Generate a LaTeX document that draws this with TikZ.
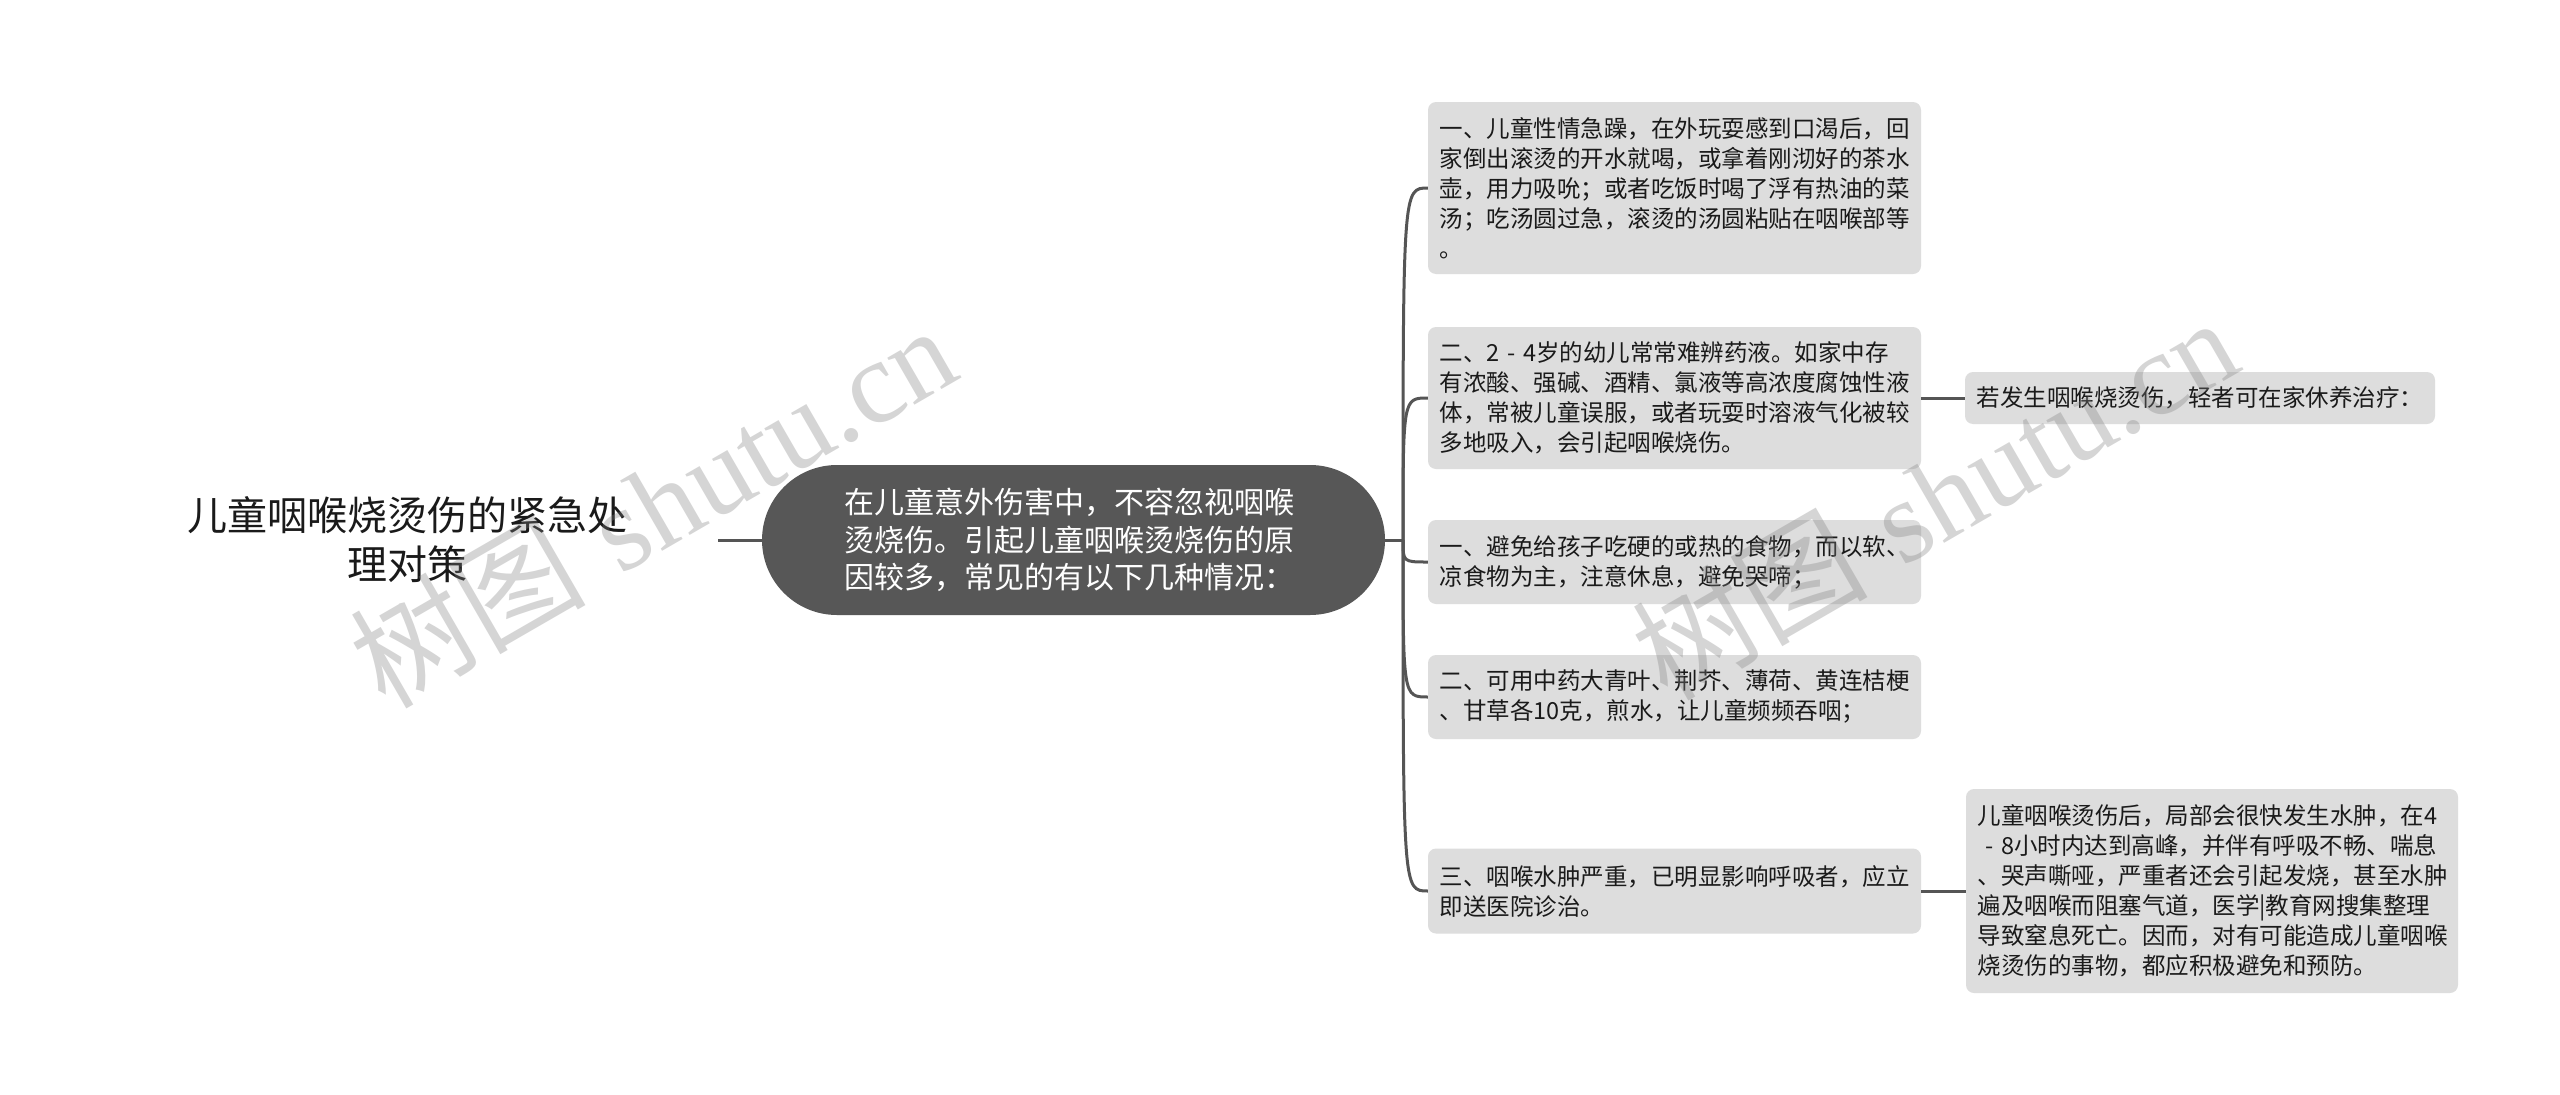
\documentclass[tikz,border=0pt]{standalone}
\usepackage{fontspec}
\newfontfamily\cjk{Noto Sans CJK SC}
\newfontfamily\wmlatin{Liberation Serif}
\definecolor{linegray}{HTML}{555555}
\definecolor{boxgray}{HTML}{DDDDDD}
\definecolor{centralgray}{HTML}{575757}
\definecolor{textblack}{HTML}{1A1A1A}
\begin{document}
\begin{tikzpicture}[x=1pt,y=-1pt,
  conn/.style={draw=linegray, line width=3pt},
  leaf/.style={fill=boxgray, rounded corners=8pt, inner xsep=11.5pt, inner ysep=0pt,
    text width=470pt, align=left, text=textblack,
    font=\cjk\fontsize{23.5pt}{30pt}\selectfont},
  rootnode/.style={inner sep=0pt, minimum width=622pt, align=center, text=textblack,
    font=\cjk\fontsize{40pt}{49pt}\selectfont},
  centralnode/.style={fill=centralgray, rounded corners=75pt, minimum width=623pt,
    minimum height=150pt, inner sep=0pt, text=white, align=left, text width=458pt,
    font=\cjk\fontsize{30pt}{37.5pt}\selectfont},
  wm/.style={text=black!50, opacity=0.33, inner sep=0pt,
    font=\fontsize{118pt}{124pt}\selectfont}
]
\useasboundingbox (0,0) rectangle (2560,1095);
\fill[white] (0,0) rectangle (2560,1095);

\node[rootnode] (root) at (407,540) {儿童咽喉烧烫伤的紧急处\\理对策};
\node[centralnode] (central) at (1073.5,540) {在儿童意外伤害中，不容忽视咽喉\\烫烧伤。引起儿童咽喉烫烧伤的原\\因较多，常见的有以下几种情况：};
\coordinate (J) at (1403,540);

\node[leaf, minimum height=172pt] (c1) at (1674.5,188) {一、儿童性情急躁，在外玩耍感到口渴后，回\\家倒出滚烫的开水就喝，或拿着刚沏好的茶水\\壶，用力吸吮；或者吃饭时喝了浮有热油的菜\\汤；吃汤圆过急，滚烫的汤圆粘贴在咽喉部等\\。};
\node[leaf, minimum height=142pt] (c2) at (1674.5,398) {二、2 - 4岁的幼儿常常难辨药液。如家中存\\有浓酸、强碱、酒精、氯液等高浓度腐蚀性液\\体，常被儿童误服，或者玩耍时溶液气化被较\\多地吸入，会引起咽喉烧伤。};
\node[leaf, minimum height=84pt] (c3) at (1674.5,562) {一、避免给孩子吃硬的或热的食物，而以软、\\凉食物为主，注意休息，避免哭啼；};
\node[leaf, minimum height=84pt] (c4) at (1674.5,697) {二、可用中药大青叶、荆芥、薄荷、黄连桔梗\\、甘草各10克，煎水，让儿童频频吞咽；};
\node[leaf, minimum height=85pt] (c5) at (1674.5,891) {三、咽喉水肿严重，已明显影响呼吸者，应立\\即送医院诊治。};

\node[leaf, minimum height=52pt, text width=447pt] (c2a) at (2200,398) {若发生咽喉烧烫伤，轻者可在家休养治疗：};
\node[leaf, minimum height=204pt, text width=469pt] (c5a) at (2212,891) {儿童咽喉烫伤后，局部会很快发生水肿，在4\\\mbox{} - 8小时内达到高峰，并伴有呼吸不畅、喘息\\、哭声嘶哑，严重者还会引起发烧，甚至水肿\\遍及咽喉而阻塞气道，医学|教育网搜集整理\\导致窒息死亡。因而，对有可能造成儿童咽喉\\烧烫伤的事物，都应积极避免和预防。};

\draw[conn] (root.east) -- (central.west);
\draw[conn] (central.east) -- (J);
\foreach \c in {c1,c2,c3,c4,c5}
  \draw[conn] (J) .. controls (J |- \c.west) and (J |- \c.west) .. (\c.west);
\draw[conn] (c2.east) -- (c2a.west);
\draw[conn] (c5.east) -- (c5a.west);

\node[wm, rotate=30] (wm1) at (652,505) {{\cjk 树图} {\wmlatin shutu.cn}};
\node[wm, rotate=30] (wm2) at (1934,497) {{\cjk 树图} {\wmlatin shutu.cn}};
\end{tikzpicture}
\end{document}
